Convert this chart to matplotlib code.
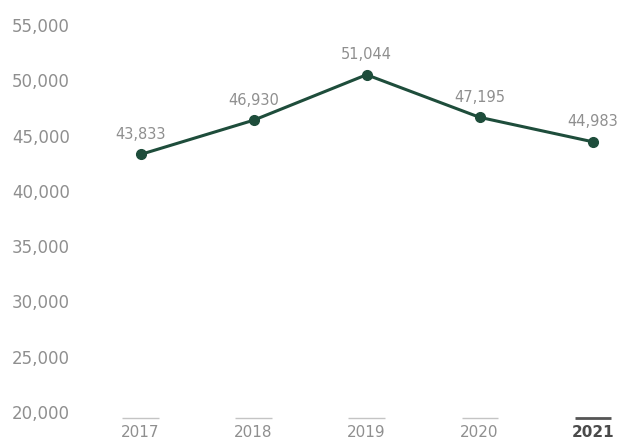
import matplotlib
matplotlib.use("Agg")
import matplotlib.pyplot as plt
import matplotlib.transforms as mtransforms

years = ["2017", "2018", "2019", "2020", "2021"]
values = [43833, 46930, 51044, 47195, 44983]
y_ticks = [20000, 25000, 30000, 35000, 40000, 45000, 50000, 55000]
highlight_year = "2021"

line_color = "#1e4d3b"
text_gray = "#8f8f8f"

plt.rcParams["font.family"] = ["DejaVu Sans"]

fig = plt.figure(figsize=(6.22, 4.40), dpi=100)
ax = fig.add_axes([84 / 622, 22 / 440, 538 / 622, 387 / 440])

x = list(range(len(years)))
ax.plot(x, values, color=line_color, linewidth=2.2, marker="o",
        markersize=7, zorder=3, clip_on=False)

for xi, v in zip(x, values):
    ax.annotate(f"{v:,}", (xi, v), xytext=(0, 9), textcoords="offset points",
                ha="center", va="bottom", fontsize=10.5, color=text_gray)

ax.set_xlim(-0.5, 4.26)
ax.set_ylim(y_ticks[0], y_ticks[-1])
ax.set_yticks(y_ticks)
ax.set_yticklabels([f"{t:,}" for t in y_ticks])
ax.tick_params(axis="y", length=0, pad=10, labelsize=12, labelcolor=text_gray)

# shift y labels slightly above their tick positions
shift = mtransforms.ScaledTranslation(0, 6 / 100, fig.dpi_scale_trans)
for lab in ax.get_yticklabels():
    lab.set_transform(lab.get_transform() + shift)

ax.set_xticks(x)
ax.set_xticklabels(years)
ax.tick_params(axis="x", length=0, pad=5, labelsize=11, labelcolor=text_gray)
for lab in ax.get_xticklabels():
    if lab.get_text() == highlight_year:
        lab.set_color("#4a4a4a")
        lab.set_fontweight("bold")

# short rule above each year label
trans = mtransforms.blended_transform_factory(ax.transData, ax.transAxes)
for xi, yr in zip(x, years):
    if yr == highlight_year:
        ax.plot([xi - 0.16, xi + 0.16], [0, 0], transform=trans, color="#555555",
                linewidth=2.0, clip_on=False, solid_capstyle="butt")
    else:
        ax.plot([xi - 0.16, xi + 0.16], [0, 0], transform=trans, color="#c4c4c4",
                linewidth=1.0, clip_on=False, solid_capstyle="butt")

for s in ax.spines.values():
    s.set_visible(False)

fig.savefig("out.png", dpi=100, facecolor="white")
